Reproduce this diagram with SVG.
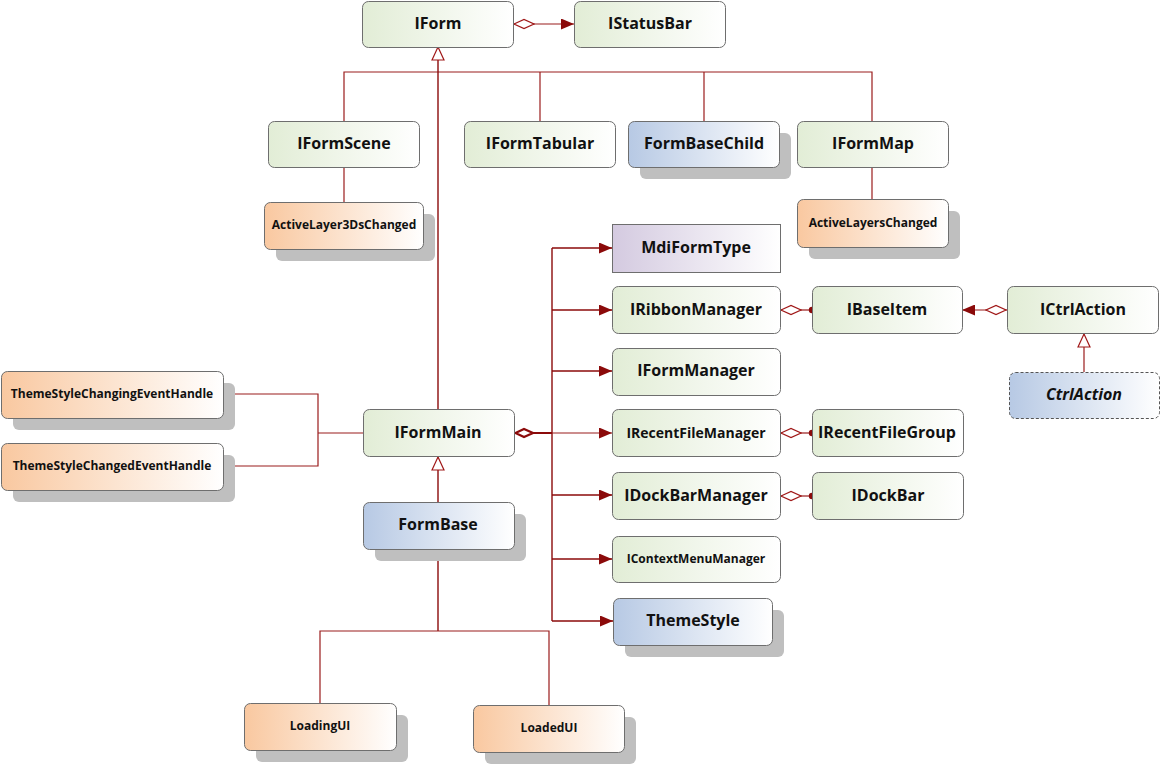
<svg xmlns="http://www.w3.org/2000/svg" width="1161" height="764" viewBox="0 0 1161 764">
  <defs>
    <linearGradient id="gGreen" x1="0" y1="0" x2="1" y2="0">
      <stop offset="0" stop-color="#e2edd6"/>
      <stop offset="1" stop-color="#ffffff"/>
    </linearGradient>
    <linearGradient id="gOrange" x1="0" y1="0" x2="1" y2="0">
      <stop offset="0" stop-color="#f9c8a0"/>
      <stop offset="1" stop-color="#ffffff"/>
    </linearGradient>
    <linearGradient id="gBlue" x1="0" y1="0" x2="1" y2="0">
      <stop offset="0" stop-color="#b7c9e4"/>
      <stop offset="1" stop-color="#ffffff"/>
    </linearGradient>
    <linearGradient id="gPurple" x1="0" y1="0" x2="1" y2="0">
      <stop offset="0" stop-color="#d4cae0"/>
      <stop offset="1" stop-color="#ffffff"/>
    </linearGradient>
    <marker id="arrow" viewBox="0 0 13 11" refX="13" refY="5.5" markerWidth="13" markerHeight="11" markerUnits="userSpaceOnUse" orient="auto">
      <path d="M0,0 L13,5.5 L0,11 Z" fill="#8b0a0a"/>
    </marker>
    <marker id="tri" viewBox="0 0 14 14" refX="14" refY="7" markerWidth="14" markerHeight="14" markerUnits="userSpaceOnUse" orient="auto">
      <path d="M1,1 L14,7 L1,13 Z" fill="#ffffff" stroke="#a01818" stroke-width="1.2"/>
    </marker>
    <marker id="dia" viewBox="0 0 22 12" refX="0" refY="6" markerWidth="22" markerHeight="12" markerUnits="userSpaceOnUse" orient="auto">
      <path d="M1,6 L11,1.5 L21,6 L11,10.5 Z" fill="#ffffff" stroke="#a01818" stroke-width="1.2"/>
    </marker>
    <marker id="diaBold" viewBox="0 0 22 12" refX="0" refY="6" markerWidth="22" markerHeight="12" markerUnits="userSpaceOnUse" orient="auto">
      <path d="M1.5,6 L10,2 L19,6 L10,10 Z" fill="#ffffff" stroke="#8b0a0a" stroke-width="2.2"/>
    </marker>
    <marker id="dot" viewBox="0 0 8 8" refX="4" refY="4" markerWidth="8" markerHeight="8" markerUnits="userSpaceOnUse">
      <circle cx="4" cy="4" r="3.2" fill="#8b0a0a"/>
    </marker>
  </defs>
  <style>
    .box { stroke: #6e6e6e; stroke-width: 1; }
    .shadow { fill: #bfbfbf; }
    .green { fill: url(#gGreen); }
    .orange { fill: url(#gOrange); }
    .blue { fill: url(#gBlue); }
    .purple { fill: url(#gPurple); }
    .dashed { stroke-dasharray: 3 2; stroke: #555; }
    text { font-family: "Open Sans", "Noto Sans", "DejaVu Sans", sans-serif; font-weight: bold; fill: #111; text-anchor: middle; dominant-baseline: central; }
    .big { font-size: 16px; }
    .mid { font-size: 14px; }
    .small { font-size: 12px; }
    .ital { font-style: italic; }
    .wire { fill: none; stroke: #9a1c1c; stroke-width: 1.2; }
    .wire2 { fill: none; stroke: #8b0a0a; stroke-width: 1.4; }
    .stub { fill: none; stroke: #8b0a0a; stroke-width: 2.2; }
  </style>

  <!-- connectors -->
  <g id="connectors">
    <!-- IForm aggregates IStatusBar -->
    <path class="wire" d="M513,24 L574,24" marker-start="url(#dia)" marker-end="url(#arrow)"/>
    <!-- inheritance bus to IForm -->
    <path class="wire" d="M344,121 L344,72 L872,72 L872,121"/>
    <path class="wire" d="M540,72 L540,121"/>
    <path class="wire" d="M704,72 L704,121"/>
    <path class="wire2" d="M438,409 L438,47" marker-end="url(#tri)"/>
    <!-- event links -->
    <path class="wire" d="M344,168 L344,202"/>
    <path class="wire" d="M872,168 L872,199"/>
    <!-- IFormMain composition bus -->
    <path class="stub" d="M514,433 L552,433" marker-start="url(#diaBold)"/>
    <path class="wire2" d="M552,248 L552,621"/>
    <path class="wire2" d="M552,248 L612,248" marker-end="url(#arrow)"/>
    <path class="wire2" d="M552,310 L612,310" marker-end="url(#arrow)"/>
    <path class="wire2" d="M552,371 L612,371" marker-end="url(#arrow)"/>
    <path class="wire" d="M552,433 L612,433" marker-end="url(#arrow)"/>
    <path class="wire2" d="M552,495 L612,495" marker-end="url(#arrow)"/>
    <path class="wire2" d="M552,559 L612,559" marker-end="url(#arrow)"/>
    <path class="wire2" d="M552,621 L613,621" marker-end="url(#arrow)"/>
    <!-- side associations -->
    <path class="wire" d="M780,310 L812,310" marker-start="url(#dia)" marker-end="url(#dot)"/>
    <path class="wire" d="M780,433 L812,433" marker-start="url(#dia)" marker-end="url(#dot)"/>
    <path class="wire" d="M780,496 L812,496" marker-start="url(#dia)" marker-end="url(#dot)"/>
    <path class="wire" d="M1007,310 L962,310" marker-start="url(#dia)" marker-end="url(#arrow)"/>
    <path class="wire" d="M1084,372 L1084,334" marker-end="url(#tri)"/>
    <!-- theme style handlers -->
    <path class="wire" d="M223,394 L318,394 L318,466 L223,466"/>
    <path class="wire" d="M318,433 L363,433"/>
    <!-- FormBase to IFormMain, UI events -->
    <path class="wire2" d="M438,502 L438,457" marker-end="url(#tri)"/>
    <path class="wire2" d="M438,549 L438,631"/>
    <path class="wire" d="M320,703 L320,631 L549,631 L549,705"/>
  </g>

  <g id="IForm">
    <rect class="box green" x="362.5" y="1.5" width="151" height="46" rx="6"/>
    <text class="big" x="438" y="23">IForm</text>
  </g>
  <g id="IStatusBar">
    <rect class="box green" x="574.5" y="1.5" width="151" height="46" rx="6"/>
    <text class="big" x="650" y="23">IStatusBar</text>
  </g>
  <g id="IFormScene">
    <rect class="box green" x="268.5" y="121.5" width="151" height="46" rx="6"/>
    <text class="big" x="344" y="143">IFormScene</text>
  </g>
  <g id="IFormTabular">
    <rect class="box green" x="464.5" y="121.5" width="151" height="46" rx="6"/>
    <text class="big" x="540" y="143">IFormTabular</text>
  </g>
  <g id="FormBaseChild">
    <rect class="shadow" x="640" y="133" width="151" height="46" rx="6"/>
    <rect class="box blue" x="628.5" y="121.5" width="151" height="46" rx="6"/>
    <text class="big" x="704" y="143">FormBaseChild</text>
  </g>
  <g id="IFormMap">
    <rect class="box green" x="797.5" y="121.5" width="151" height="46" rx="6"/>
    <text class="big" x="873" y="143">IFormMap</text>
  </g>
  <g id="ActiveLayer3DsChanged">
    <rect class="shadow" x="276" y="214" width="159" height="47" rx="6"/>
    <rect class="box orange" x="264.5" y="202.5" width="159" height="47" rx="6"/>
    <text class="small" x="344" y="224">ActiveLayer3DsChanged</text>
  </g>
  <g id="ActiveLayersChanged">
    <rect class="shadow" x="809" y="211" width="151" height="48" rx="6"/>
    <rect class="box orange" x="797.5" y="199.5" width="151" height="48" rx="6"/>
    <text class="small" x="873" y="222">ActiveLayersChanged</text>
  </g>
  <g id="MdiFormType">
    <rect class="box purple" x="612.5" y="224.5" width="168" height="48"/>
    <text class="big" x="696" y="247">MdiFormType</text>
  </g>
  <g id="IRibbonManager">
    <rect class="box green" x="612.5" y="286.5" width="168" height="47" rx="6"/>
    <text class="big" x="696" y="309">IRibbonManager</text>
  </g>
  <g id="IBaseItem">
    <rect class="box green" x="812.5" y="286.5" width="150" height="47" rx="6"/>
    <text class="big" x="887" y="309">IBaseItem</text>
  </g>
  <g id="ICtrlAction">
    <rect class="box green" x="1007.5" y="286.5" width="151" height="47" rx="6"/>
    <text class="big" x="1083" y="309">ICtrlAction</text>
  </g>
  <g id="CtrlAction">
    <rect class="box blue dashed" x="1009.5" y="372.5" width="150" height="46" rx="6"/>
    <text class="big ital" x="1084" y="394">CtrlAction</text>
  </g>
  <g id="IFormManager">
    <rect class="box green" x="612.5" y="348.5" width="168" height="47" rx="6"/>
    <text class="big" x="696" y="370">IFormManager</text>
  </g>
  <g id="IRecentFileManager">
    <rect class="box green" x="612.5" y="409.5" width="168" height="47" rx="6"/>
    <text class="mid" x="696" y="432">IRecentFileManager</text>
  </g>
  <g id="IRecentFileGroup">
    <rect class="box green" x="812.5" y="409.5" width="151" height="47" rx="6"/>
    <text class="big" x="887" y="432">IRecentFileGroup</text>
  </g>
  <g id="IDockBarManager">
    <rect class="box green" x="612.5" y="472.5" width="168" height="47" rx="6"/>
    <text class="big" x="696" y="495">IDockBarManager</text>
  </g>
  <g id="IDockBar">
    <rect class="box green" x="812.5" y="472.5" width="151" height="47" rx="6"/>
    <text class="big" x="888" y="495">IDockBar</text>
  </g>
  <g id="IContextMenuManager">
    <rect class="box green" x="612.5" y="536.5" width="168" height="46" rx="6"/>
    <text class="small" x="696" y="558">IContextMenuManager</text>
  </g>
  <g id="ThemeStyle">
    <rect class="shadow" x="625" y="610" width="159" height="47" rx="6"/>
    <rect class="box blue" x="613.5" y="598.5" width="159" height="47" rx="6"/>
    <text class="big" x="693" y="620">ThemeStyle</text>
  </g>
  <g id="IFormMain">
    <rect class="box green" x="363.5" y="409.5" width="151" height="47" rx="6"/>
    <text class="big" x="438" y="432">IFormMain</text>
  </g>
  <g id="FormBase">
    <rect class="shadow" x="375" y="514" width="151" height="47" rx="6"/>
    <rect class="box blue" x="363.5" y="502.5" width="151" height="47" rx="6"/>
    <text class="big" x="438" y="524">FormBase</text>
  </g>
  <g id="ThemeStyleChangingEventHandle">
    <rect class="shadow" x="13" y="383" width="222" height="47" rx="6"/>
    <rect class="box orange" x="1.5" y="371.5" width="222" height="47" rx="6"/>
    <text class="small" x="112" y="393">ThemeStyleChangingEventHandle</text>
  </g>
  <g id="ThemeStyleChangedEventHandle">
    <rect class="shadow" x="13" y="455" width="222" height="47" rx="6"/>
    <rect class="box orange" x="1.5" y="443.5" width="222" height="47" rx="6"/>
    <text class="small" x="112" y="465">ThemeStyleChangedEventHandle</text>
  </g>
  <g id="LoadingUI">
    <rect class="shadow" x="256" y="715" width="152" height="47" rx="6"/>
    <rect class="box orange" x="244.5" y="703.5" width="152" height="47" rx="6"/>
    <text class="small" x="320" y="725">LoadingUI</text>
  </g>
  <g id="LoadedUI">
    <rect class="shadow" x="485" y="717" width="151" height="47" rx="6"/>
    <rect class="box orange" x="473.5" y="705.5" width="151" height="47" rx="6"/>
    <text class="small" x="549" y="727">LoadedUI</text>
  </g>
</svg>
